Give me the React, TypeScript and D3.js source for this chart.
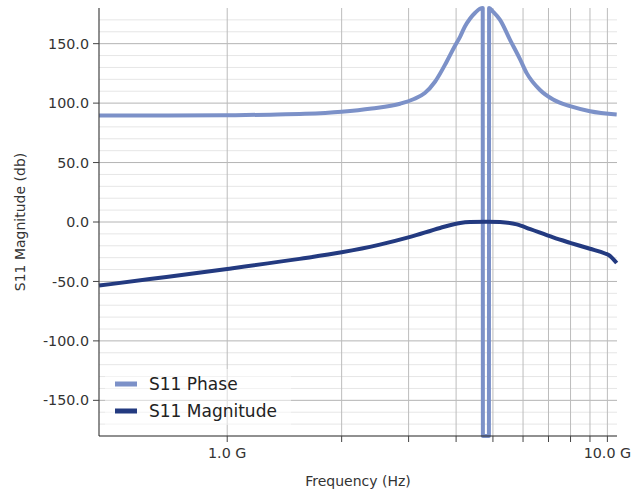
import React from "react";
import * as d3 from "d3";

// Frequency in GHz
const phaseFreq = [0.46, 0.7, 1.0, 1.3, 1.6, 2.0, 2.4, 2.85, 3.1, 3.31, 3.52, 3.78, 3.97, 4.1, 4.22, 4.35, 4.49, 4.62, 4.70, 4.705, 4.88, 4.885, 5.0, 5.22, 5.55, 5.89, 6.14, 6.65, 7.2, 7.98, 9.0, 10.58];
const phaseVals = [89.5, 89.6, 89.8, 90.3, 91.0, 92.8, 95.5, 99.5, 103.5, 108.5, 118, 135, 148, 156, 164.5, 171, 176, 179.3, 180, -180, -180, 180, 177, 170, 153, 137, 125, 111, 103, 97.4, 93.2, 90.4];

const magFreq = [0.46, 0.626, 1.0, 1.55, 2.0, 2.52, 3.03, 3.63, 4.1, 4.35, 4.8, 5.22, 5.78, 6.27, 7.2, 7.98, 9.0, 9.86, 10.1, 10.58];
const magVals = [-53.5, -48, -39.5, -31, -25.5, -19, -12.5, -5, -0.8, 0, 0.3, 0, -2, -6, -13, -17.5, -22.5, -26.5, -28, -34.5];

const yTicks = [-150, -100, -50, 0, 50, 100, 150];
const xTickVals = [1, 2, 3, 4, 5, 6, 7, 8, 9, 10];
const xLabelVals = [1, 10];
const seriesNames = ["S11 Phase", "S11 Magnitude"];
const seriesColors = ["#7c91c8", "#233a80"];

const W = 644, H = 498;
const L = 99, R = 617, T = 8, B = 436;
const FONT = "DejaVu Sans, sans-serif";

export default function App() {
  const x = d3.scaleLog().domain([0.46, 10.6]).range([L, R]);
  const y = d3.scaleLinear().domain([-180, 180]).range([B, T]);

  const line = d3
    .line<[number, number]>()
    .x((d) => x(d[0]))
    .y((d) => y(d[1]))
    .curve(d3.curveMonotoneX);

  const phaseData = phaseFreq.map((f, i) => [f, phaseVals[i]] as [number, number]);
  const magData = magFreq.map((f, i) => [f, magVals[i]] as [number, number]);

  const minorY = d3.range(-170, 180, 10).filter((v) => v % 50 !== 0);

  return (
    <svg width={W} height={H} style={{ position: "absolute", left: 0, top: 0, background: "#fff" }} fontFamily={FONT}>
      {minorY.map((v) => (
        <line key={"my" + v} x1={L} x2={R} y1={y(v)} y2={y(v)} stroke="#e6e6e6" strokeWidth={1} />
      ))}
      {yTicks.map((v) => (
        <line key={"My" + v} x1={L} x2={R} y1={y(v)} y2={y(v)} stroke="#b4b4b4" strokeWidth={1} />
      ))}
      {xTickVals.map((v) => (
        <line key={"vx" + v} x1={x(v)} x2={x(v)} y1={T} y2={B} stroke="#bcbcbc" strokeWidth={1} />
      ))}

      <path d={line(phaseData) || ""} fill="none" stroke={seriesColors[0]} strokeWidth={4} strokeLinejoin="round" />
      <path d={line(magData) || ""} fill="none" stroke={seriesColors[1]} strokeWidth={4} strokeLinejoin="round" />

      <line x1={L} x2={L} y1={T} y2={B} stroke="#444" strokeWidth={1.2} />
      <line x1={L} x2={R} y1={B} y2={B} stroke="#222" strokeWidth={1.2} />
      {yTicks.map((v) => (
        <g key={"yt" + v}>
          <line x1={L - 6} x2={L} y1={y(v)} y2={y(v)} stroke="#444" />
          <text x={L - 10} y={y(v)} dy="0.36em" textAnchor="end" fontSize={14.3} fill="#333">
            {v.toFixed(1)}
          </text>
        </g>
      ))}
      {xTickVals.map((v) => (
        <line key={"xt" + v} x1={x(v)} x2={x(v)} y1={B} y2={B + 6} stroke="#444" />
      ))}
      {xLabelVals.map((v) => (
        <text key={"xl" + v} x={x(v)} y={458} textAnchor="middle" fontSize={14.3} fill="#333">
          {v.toFixed(1) + " G"}
        </text>
      ))}

      <text x={(L + R) / 2} y={486} textAnchor="middle" fontSize={14} fill="#333">
        Frequency (Hz)
      </text>
      <text transform={`translate(25,${(T + B) / 2}) rotate(-90)`} textAnchor="middle" fontSize={14} fill="#333">
        S11 Magnitude (db)
      </text>

      <rect x={105} y={369} width={186} height={56} fill="#fff" fillOpacity={0.5} />
      {seriesNames.map((n, i) => (
        <g key={n}>
          <rect x={115} y={384 + i * 27 - 2.5} width={22} height={5} fill={seriesColors[i]} />
          <text x={149} y={384 + i * 27} dy="0.36em" fontSize={17} fill="#222">
            {n}
          </text>
        </g>
      ))}
    </svg>
  );
}
